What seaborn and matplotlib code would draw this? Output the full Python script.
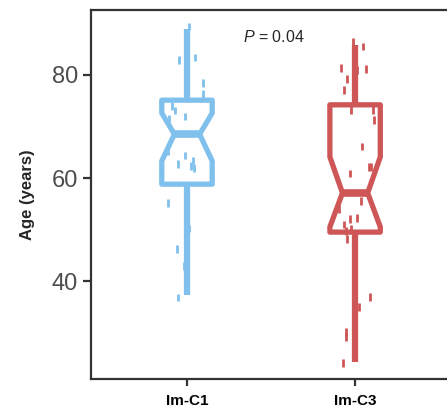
import numpy as np
import pandas as pd
import seaborn as sns
import matplotlib.pyplot as plt

# groups and colours
groups = ['Im-C1', 'Im-C3']
colors = ['#80C0EC', '#CE5656']

# individual ages (jittered points)
age_c1 = [89.4, 83.4, 82.9, 79.9, 78.4, 76.3, 74.0, 73.1, 71.5, 71.9, 65.2,
          64.4, 63.4, 62.7, 61.9, 62.3, 55.1, 50.2, 46.2, 42.9, 36.8]
age_c3 = [85.5, 86.5, 81.3, 81.0, 81.1, 79.2, 77.1, 73.2, 73.2, 71.3, 66.1,
          62.1, 62.1, 60.9, 54.0, 55.5, 52.2, 52.1, 51.0, 50.2, 48.9, 49.7,
          48.2, 37.9, 36.9, 35.0, 30.1, 29.2, 27.1, 24.1]

# box summary
q1 = [58.8, 49.5]
med = [68.5, 57.1]
q3 = [75.1, 74.2]
whislo = [37.3, 24.3]
whishi = [88.9, 85.8]
cilo = [63.3, 50.5]
cihi = [72.6, 64.1]

p_label = '$P$ = 0.04'

df = pd.DataFrame({
    'Group': ['Im-C1'] * len(age_c1) + ['Im-C3'] * len(age_c3),
    'Age': age_c1 + age_c3,
})

sns.set_style('ticks')
plt.rcParams['font.family'] = ['Liberation Sans', 'DejaVu Sans']
plt.rcParams['mathtext.fontset'] = 'custom'
plt.rcParams['mathtext.it'] = 'Liberation Sans:italic'
plt.rcParams['mathtext.rm'] = 'Liberation Sans'

fig = plt.figure(figsize=(4.47, 4.08), dpi=100)
ax = fig.add_axes([0.2036, 0.0711, 0.8055, 0.9044])

stats = []
for i, g in enumerate(groups):
    stats.append(dict(label=g, q1=q1[i], med=med[i], q3=q3[i],
                      whislo=whislo[i], whishi=whishi[i],
                      cilo=cilo[i], cihi=cihi[i], fliers=[]))

bp = ax.bxp(stats, positions=[0, 1], widths=0.3, shownotches=True,
            showcaps=False, showfliers=False, patch_artist=True)
for i, c in enumerate(colors):
    bp['boxes'][i].set(facecolor='white', edgecolor=c, linewidth=3.8,
                       joinstyle='round')
    bp['medians'][i].set(color=c, linewidth=5.5, solid_capstyle='butt')
    for w in bp['whiskers'][2 * i:2 * i + 2]:
        w.set(color=c, linewidth=4.5, solid_capstyle='butt')

np.random.seed(3)
sns.stripplot(data=df, x='Group', y='Age', hue='Group', order=groups,
              palette=colors, marker='|', s=5.5, linewidth=2, jitter=0.12,
              legend=False, ax=ax, zorder=5)

ax.set_xlim(-0.571, 1.571)
ax.set_ylim(21.0, 92.6)
ax.set_yticks([40, 60, 80])
ax.set_xticks([0, 1])
ax.set_xticklabels(groups, fontsize=11, fontweight='bold', color='black')
ax.tick_params(axis='y', labelsize=17, labelcolor='#4D4D4D', length=6,
               width=1.6, color='#333333')
ax.tick_params(axis='x', length=5, width=1.6, color='#333333', pad=6)
ax.set_xlabel('')
ax.set_ylabel('Age (years)', fontsize=12, fontweight='bold', labelpad=12)
for s in ax.spines.values():
    s.set_color('#333333')
    s.set_linewidth(1.6)

ax.text(0.518, 87.4, p_label, ha='center', va='center', fontsize=11.5)

fig.savefig('out.png', dpi=100)
